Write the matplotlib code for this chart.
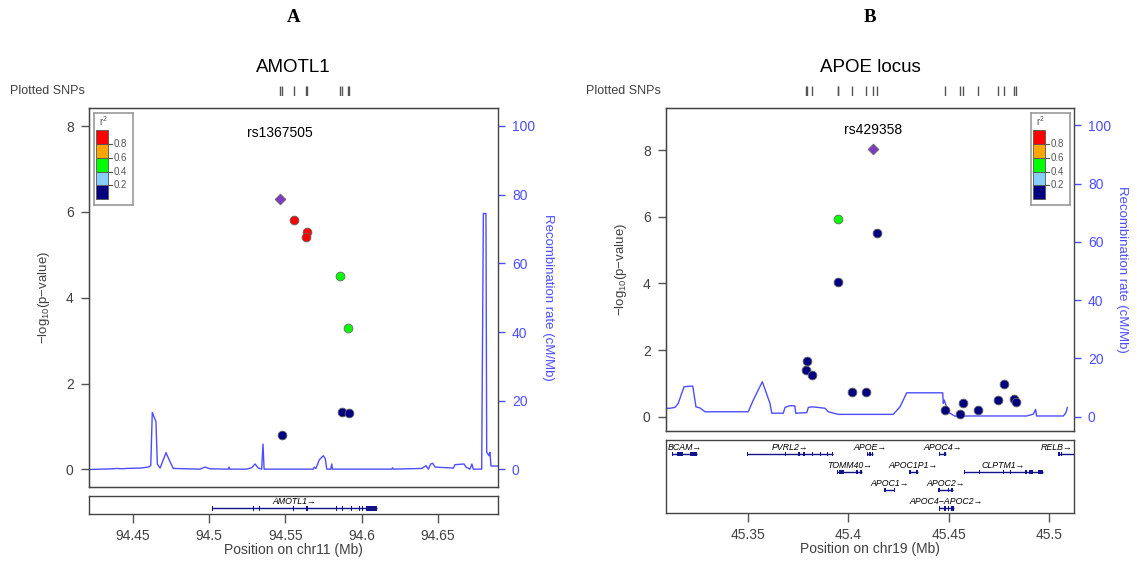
"""Two LocusZoom-style regional association plots (AMOTL1 and APOE locus)."""
import matplotlib
matplotlib.use("Agg")
import matplotlib.pyplot as plt

W, H = 1137, 567

plt.rcParams["font.family"] = ["Liberation Sans", "DejaVu Sans"]
plt.rcParams["mathtext.fontset"] = "custom"
plt.rcParams["mathtext.rm"] = "Liberation Sans"

# r2 colour classes
r2_edges = [0.0, 0.2, 0.4, 0.6, 0.8, 1.0]
r2_colors = ["#000080", "#87CEFA", "#00FF00", "#FFA500", "#FF0000"]
r2_ticks = [0.2, 0.4, 0.6, 0.8]
index_color = "#7D3BC3"
recomb_color = "#4D4DFF"
gene_color = "#14148A"
text_gray = "#404040"

# ---------------- panel A : AMOTL1, chr11 ----------------
a_snp_pos = [94.5465, 94.5557, 94.5643, 94.5636, 94.5859, 94.5913, 94.5477, 94.5872, 94.5920]
a_snp_logp = [6.29, 5.80, 5.53, 5.41, 4.51, 3.29, 0.79, 1.33, 1.31]
a_snp_r2 = [1.0, 0.9, 0.9, 0.9, 0.5, 0.5, 0.1, 0.1, 0.1]
a_index_name = "rs1367505"
a_rec_pos = [94.4220, 94.4373, 94.4395, 94.4427, 94.4460, 94.4547, 94.4602, 94.4618,
             94.4628, 94.4652, 94.4661, 94.4679, 94.4700, 94.4718, 94.4744, 94.4766,
             94.4941, 94.4974, 94.5006, 94.5126, 94.5131, 94.5136, 94.5247, 94.5280,
             94.5302, 94.5323, 94.5345, 94.5354, 94.5361, 94.5378, 94.5684, 94.5690,
             94.5701, 94.5723, 94.5749, 94.5762, 94.5772, 94.5798, 94.5805, 94.5809,
             94.6198, 94.6204, 94.6208, 94.6395, 94.6423, 94.6438, 94.6454, 94.6467,
             94.6482, 94.6602, 94.6613, 94.6672, 94.6685, 94.6711, 94.6724, 94.6733,
             94.6788, 94.6799, 94.6816, 94.6821, 94.6836, 94.6842, 94.6849, 94.6897]
a_rec_rate = [0.0, 0.2, 0.3, 0.2, 0.3, 0.4, 0.7, 1.1,
              16.6, 13.9, 1.6, 0.4, 2.8, 4.9, 2.3, 0.3,
              0.1, 0.7, 0.2, 0.1, 0.7, 0.1, 0.1, 0.5,
              1.6, 0.4, 0.1, 7.4, 0.1, 0.1, 0.1, 0.7,
              0.3, 2.8, 4.0, 3.2, 0.1, 0.1, 1.6, 0.1,
              0.1, 0.5, 0.1, 0.3, 1.1, 0.1, 1.6, 1.8,
              0.7, 0.4, 1.4, 1.6, 0.7, 0.1, 1.6, 0.1,
              0.1, 74.5, 74.5, 5.0, 4.0, 5.0, 1.0, 1.0]
a_gene_names = ["AMOTL1"]
a_gene_start = [94.5018]
a_gene_end = [94.6100]
a_gene_row = [0]
a_gene_exons = [[(94.5018, 94.5018), (94.5286, 94.5286), (94.5326, 94.5330),
                 (94.5549, 94.5549), (94.5634, 94.5634), (94.5645, 94.5645),
                 (94.5833, 94.5833), (94.5874, 94.5874), (94.5929, 94.5929),
                 (94.5983, 94.5983), (94.6001, 94.6001), (94.6029, 94.6100)]]
a_xticks = [94.45, 94.5, 94.55, 94.6, 94.65]
a_xticklabels = ["94.45", "94.5", "94.55", "94.6", "94.65"]

# ---------------- panel B : APOE locus, chr19 ----------------
b_snp_pos = [45.4123, 45.3949, 45.3948, 45.4143, 45.3797, 45.3790, 45.3820, 45.4017,
             45.4087, 45.4483, 45.4554, 45.4572, 45.4647, 45.4745, 45.4773, 45.4826,
             45.4834]
b_snp_logp = [8.03, 5.93, 4.05, 5.50, 1.67, 1.39, 1.24, 0.73,
              0.73, 0.20, 0.09, 0.41, 0.19, 0.49, 0.97, 0.53,
              0.45]
b_snp_r2 = [1.0, 0.5, 0.1, 0.1, 0.1, 0.1, 0.1, 0.1,
            0.1, 0.1, 0.1, 0.1, 0.1, 0.1, 0.1, 0.1,
            0.1]
b_index_name = "rs429358"
b_rec_pos = [45.3094, 45.3114, 45.3139, 45.3155, 45.3172, 45.3184, 45.3227, 45.3243,
             45.3263, 45.3288, 45.3503, 45.3528, 45.3573, 45.3611, 45.3620, 45.3677,
             45.3686, 45.3711, 45.3735, 45.3739, 45.3794, 45.3802, 45.3823, 45.3885,
             45.3901, 45.3951, 45.4224, 45.4258, 45.4291, 45.4470, 45.4473, 45.4478,
             45.4486, 45.4506, 45.4531, 45.4606, 45.4888, 45.4921, 45.4932, 45.4937,
             45.5070, 45.5083, 45.5090]
b_rec_rate = [2.9, 2.9, 3.2, 4.6, 8.0, 10.3, 10.5, 3.4,
              3.0, 1.7, 1.7, 5.7, 12.0, 4.6, 1.2, 1.2,
              3.2, 3.8, 3.7, 1.2, 1.4, 3.2, 3.4, 2.9,
              1.7, 0.8, 0.8, 3.4, 8.2, 8.2, 4.6, 5.7,
              4.0, 1.2, 0.2, 0.25, 0.25, 0.9, 2.5, 0.25,
              0.25, 1.4, 3.2]
b_gene_names = ["BCAM", "PVRL2", "APOE", "APOC4", "RELB",
                "TOMM40", "APOC1P1", "CLPTM1",
                "APOC1", "APOC2",
                "APOC4\u2212APOC2"]
b_gene_start = [45.3122, 45.3495, 45.4092, 45.4453, 45.5045,
                45.3943, 45.4301, 45.4575,
                45.4180, 45.4449,
                45.4453]
b_gene_end = [45.3250, 45.3923, 45.4125, 45.4486, 45.5150,
              45.4070, 45.4349, 45.4967,
              45.4229, 45.4520,
              45.4526]
b_gene_row = [0, 0, 0, 0, 0, 1, 1, 1, 2, 2, 3]
b_gene_exons = [
    [(45.3122, 45.3128), (45.3148, 45.3180), (45.3213, 45.3250)],
    [(45.3495, 45.3495), (45.3686, 45.3686), (45.3752, 45.3752), (45.3777, 45.3777),
     (45.3818, 45.3818), (45.3860, 45.3860), (45.3893, 45.3893), (45.3918, 45.3923)],
    [(45.4092, 45.4097), (45.4104, 45.4111), (45.4116, 45.4125)],
    [(45.4453, 45.4456), (45.4476, 45.4486)],
    [(45.5045, 45.5048), (45.5056, 45.5059)],
    [(45.3943, 45.3950), (45.3955, 45.3979), (45.4040, 45.4050), (45.4060, 45.4070)],
    [(45.4301, 45.4312), (45.4338, 45.4349)],
    [(45.4575, 45.4575), (45.4652, 45.4652), (45.4768, 45.4768), (45.4804, 45.4804),
     (45.4877, 45.4890), (45.4900, 45.4920), (45.4945, 45.4967)],
    [(45.4180, 45.4181), (45.4227, 45.4229)],
    [(45.4449, 45.4452), (45.4495, 45.4500), (45.4510, 45.4520)],
    [(45.4453, 45.4456), (45.4476, 45.4484), (45.4495, 45.4500), (45.4512, 45.4526)],
]
b_xticks = [45.35, 45.4, 45.45, 45.5]
b_xticklabels = ["45.35", "45.4", "45.45", "45.5"]

logp_ticks = [0, 2, 4, 6, 8]
rec_ticks = [0, 20, 40, 60, 80, 100]


def px_axes(fig, left, top, right, bottom):
    return fig.add_axes([left / W, 1 - bottom / H, (right - left) / W, (bottom - top) / H])


def r2_color(r2):
    for lo, hi, c in zip(r2_edges[:-1], r2_edges[1:], r2_colors):
        if lo <= r2 <= hi:
            return c
    return r2_colors[-1]


def draw_legend(fig, left, top):
    ax = px_axes(fig, left, top, left + 39, top + 92)
    ax.set_xlim(0, 39)
    ax.set_ylim(-0.082, 1.245)
    for lo, hi, c in zip(r2_edges[:-1], r2_edges[1:], r2_colors):
        ax.bar(8, hi - lo, bottom=lo, width=12, color=c, edgecolor="#555555", linewidth=0.6)
    for t in r2_ticks:
        ax.plot([14, 17.5], [t, t], color="#555555", lw=0.8)
        ax.text(19.5, t, f"{t:.1f}", fontsize=7, color="#555555", va="center", ha="left")
    ax.text(9, 1.13, "r$^2$", fontsize=7, color="#555555", ha="center", va="center")
    ax.set_xticks([])
    ax.set_yticks([])
    for s in ax.spines.values():
        s.set_color("#999999")
        s.set_linewidth(1.2)


def draw_panel(fig, lay, title, letter, chrom, snp_pos, snp_logp, snp_r2, index_name,
               rec_pos, rec_rate, gene_names, gene_start, gene_end,
               gene_row, gene_exons, xticks, xticklabels):
    left, right = lay["left"], lay["right"]
    xlim = lay["xlim"]
    centre = (left + right) / 2

    fig.text(centre / W, 1 - 17 / H, letter, fontsize=13.5, fontweight="bold",
             family="Liberation Serif", ha="center", va="center")
    fig.text(centre / W, 1 - 68 / H, title, fontsize=13.5, ha="center", va="center")
    fig.text(lay["rug_label_x"] / W, 1 - 91 / H, "Plotted SNPs", fontsize=9,
             color=text_gray, ha="left", va="center")

    # rug of plotted SNPs
    ax_rug = px_axes(fig, left, 86, right, 96)
    ax_rug.vlines(snp_pos, 0, 1, color="#555555", lw=1)
    ax_rug.set_xlim(xlim)
    ax_rug.set_ylim(0, 1)
    ax_rug.axis("off")

    # main association plot + recombination rate
    ax = px_axes(fig, left, 108, right, lay["main_bottom"])
    ax_rec = ax.twinx()
    ax.set_zorder(ax_rec.get_zorder() + 1)
    ax.patch.set_visible(False)

    ax_rec.plot(rec_pos, rec_rate, color=recomb_color, lw=1)
    ax_rec.set_ylim(lay["rec_ylim"])
    ax_rec.set_yticks(rec_ticks)
    ax_rec.tick_params(axis="y", colors=recomb_color, labelsize=10, length=5, width=1, pad=5)
    ax_rec.set_ylabel("Recombination rate (cM/Mb)", color=recomb_color, fontsize=9.5,
                      rotation=270, labelpad=lay["rec_labelpad"])
    ax_rec.spines["right"].set_visible(False)

    idx_x, idx_y = None, None
    for x, y, r2 in zip(snp_pos, snp_logp, snp_r2):
        if r2 >= 1.0:
            idx_x, idx_y = x, y
            ax.scatter([x], [y], marker="D", s=30, color=index_color,
                       edgecolor="#666666", linewidth=0.6, zorder=4)
        else:
            ax.scatter([x], [y], marker="o", s=40, color=r2_color(r2),
                       edgecolor="#666666", linewidth=0.6, zorder=3)
    ax.text(idx_x, lay["label_y"], index_name, fontsize=10, ha="center", va="center")

    ax.set_xlim(xlim)
    ax.set_ylim(lay["ylim"])
    ax_rec.set_xlim(xlim)
    ax.set_xticks([])
    ax.set_yticks(logp_ticks)
    ax.tick_params(axis="y", colors="#555555", labelcolor=text_gray, labelsize=10,
                   length=6, width=1, pad=5)
    ax.set_ylabel("\u2212log$_{\\mathregular{10}}$(p\u2212value)", fontsize=9.5,
                  color=text_gray, labelpad=10)
    for s in ax.spines.values():
        s.set_color("#444444")
        s.set_linewidth(1)

    # gene track
    g_top, g_bottom = lay["gene_top"], lay["gene_bottom"]
    axg = px_axes(fig, left, g_top, right, g_bottom)
    axg.set_xlim(xlim)
    axg.set_ylim(g_bottom, g_top)
    line0 = lay["gene_line0"]
    for name, s, e, row, exons in zip(gene_names, gene_start, gene_end, gene_row, gene_exons):
        y = line0 + row * 18.1
        axg.plot([s, e], [y, y], color=gene_color, lw=1, solid_capstyle="butt")
        for es, ee in exons:
            w = max(ee - es, lay["min_exon"])
            axg.fill_between([es, es + w], y - 2.2, y + 2.2, color=gene_color, lw=0)
        if e > xlim[1]:
            axg.text(xlim[1] - lay["min_exon"], y - 6.5, name + "\u2192", fontsize=6.3,
                     style="italic", ha="right", va="center")
        elif s < xlim[0]:
            axg.text(xlim[0] + lay["min_exon"], y - 6.5, name + "\u2192", fontsize=6.3,
                     style="italic", ha="left", va="center")
        else:
            axg.text((s + e) / 2, y - 6.5, name + "\u2192", fontsize=6.3,
                     style="italic", ha="center", va="center")
    axg.set_yticks([])
    axg.set_xticks(xticks)
    axg.set_xticklabels(xticklabels)
    axg.tick_params(axis="x", colors="#555555", labelcolor=text_gray, labelsize=10,
                    length=6.5, width=1, pad=4)
    axg.set_xlabel(f"Position on {chrom} (Mb)", fontsize=10, color=text_gray, labelpad=0)
    for s in axg.spines.values():
        s.set_color("#444444")
        s.set_linewidth(1)

    draw_legend(fig, lay["legend_left"], 113)


fig = plt.figure(figsize=(W / 100, H / 100), dpi=100)

layout_a = dict(left=89, right=498, xlim=(94.4213, 94.6895), main_bottom=487,
                ylim=(-0.41, 8.42), rec_ylim=(-5.1, 105.2), rec_labelpad=14,
                gene_top=495.7, gene_bottom=514.4, gene_line0=508.3, min_exon=0.0007,
                rug_label_x=10, legend_left=94, label_y=7.84)
layout_b = dict(left=666, right=1074, xlim=(45.3094, 45.5123), main_bottom=431,
                ylim=(-0.43, 9.26), rec_ylim=(-4.9, 105.9), rec_labelpad=12,
                gene_top=440, gene_bottom=513.3, gene_line0=454, min_exon=0.0006,
                rug_label_x=586, legend_left=1031, label_y=8.60)

draw_panel(fig, layout_a, "AMOTL1", "A", "chr11", a_snp_pos, a_snp_logp, a_snp_r2,
           a_index_name, a_rec_pos, a_rec_rate,
           a_gene_names, a_gene_start, a_gene_end, a_gene_row, a_gene_exons,
           a_xticks, a_xticklabels)
draw_panel(fig, layout_b, "APOE locus", "B", "chr19", b_snp_pos, b_snp_logp, b_snp_r2,
           b_index_name, b_rec_pos, b_rec_rate,
           b_gene_names, b_gene_start, b_gene_end, b_gene_row, b_gene_exons,
           b_xticks, b_xticklabels)

fig.savefig("out.png", dpi=100)
